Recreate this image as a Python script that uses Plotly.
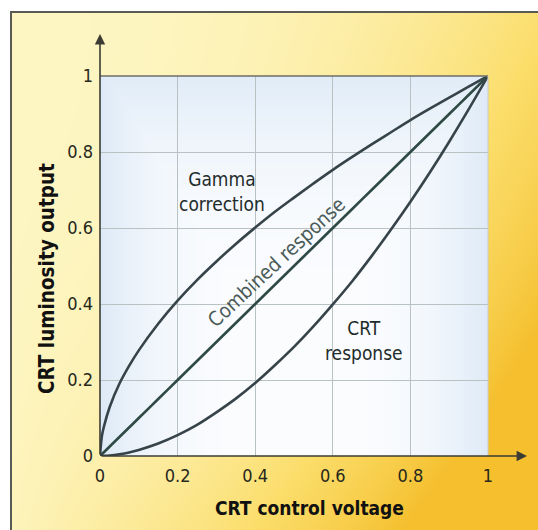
import base64
import struct
import zlib

import numpy as np
import plotly.graph_objects as go

# Control voltage samples and the three transfer curves (normalised 0..1)
voltage = [0, 0.005, 0.01, 0.025, 0.05, 0.075, 0.1, 0.15, 0.2, 0.25, 0.3, 0.35, 0.4, 0.45,
           0.5, 0.55, 0.6, 0.65, 0.7, 0.75, 0.8, 0.85, 0.9, 0.95, 1.0]
gamma_correction = [0, 0.053, 0.077, 0.129, 0.19, 0.237, 0.278, 0.348, 0.409, 0.463, 0.512,
                    0.558, 0.601, 0.642, 0.680, 0.717, 0.753, 0.787, 0.820, 0.852, 0.884,
                    0.914, 0.943, 0.972, 1.0]
crt_response = [0, 0.0001, 0.0003, 0.0013, 0.0046, 0.0094, 0.016, 0.033, 0.055, 0.082, 0.115,
                0.151, 0.192, 0.238, 0.287, 0.341, 0.399, 0.460, 0.526, 0.596, 0.669,
                0.746, 0.827, 0.912, 1.0]
combined_response = [0, 0.005, 0.01, 0.025, 0.05, 0.075, 0.1, 0.15, 0.2, 0.25, 0.3, 0.35, 0.4,
                     0.45, 0.5, 0.55, 0.6, 0.65, 0.7, 0.75, 0.8, 0.85, 0.9, 0.95, 1.0]

tick_values = [0, 0.2, 0.4, 0.6, 0.8, 1]
tick_labels = ["0", "0.2", "0.4", "0.6", "0.8", "1"]

# Canvas geometry (pixels)
WIDTH, HEIGHT = 538, 530
ML, MR, MT, MB = 100, 50, 76, 74
PW = WIDTH - ML - MR
PH = HEIGHT - MT - MB

FONT = "DejaVu Sans Condensed, Roboto, sans-serif"
CURVE = "#36444a"
INK = "#26281c"


def png_uri(rgb):
    """Encode an HxWx3 uint8 array as a PNG data URI."""
    h, w, _ = rgb.shape
    raw = b"".join(b"\x00" + rgb[r].tobytes() for r in range(h))

    def chunk(tag, data):
        c = struct.pack(">I", len(data)) + tag + data
        return c + struct.pack(">I", zlib.crc32(tag + data) & 0xFFFFFFFF)

    png = b"\x89PNG\r\n\x1a\n"
    png += chunk(b"IHDR", struct.pack(">IIBBBBB", w, h, 8, 2, 0, 0, 0))
    png += chunk(b"IDAT", zlib.compress(raw, 9))
    png += chunk(b"IEND", b"")
    return "data:image/png;base64," + base64.b64encode(png).decode()


# Warm page background: pale yellow on the left, deeper orange toward the right/bottom
yy, xx = np.mgrid[0:HEIGHT, 0:WIDTH].astype(float)
xn = xx / WIDTH
yn = yy / HEIGHT
t = 1.1 * xn ** 2.5 * (0.4 + 0.6 * yn) + 0.55 * yn ** 3 * xn ** 0.7
t = np.clip(t, 0, 1)[..., None]
light = np.array([254, 246, 195], float)
mid = np.array([251, 221, 105], float)
deep = np.array([245, 191, 45], float)
lo = np.clip(t * 2, 0, 1)
hi = np.clip(t * 2 - 1, 0, 1)
page = np.where(t < 0.5, light * (1 - lo) + mid * lo, mid * (1 - hi) + deep * hi)
page[(xx < 10) | (yy < 11)] = 255
page[(np.abs(xx - 10.5) < 1) & (yy >= 11)] = [90, 90, 85]
page[(np.abs(yy - 11.5) < 1) & (xx >= 10)] = [90, 90, 85]
page = page.astype(np.uint8)

# Cool plot-area background: pale blue at the edges, white in the middle
py, px = np.mgrid[0:PH, 0:PW].astype(float)
pxn = px / PW
pyn = py / PH
edge = np.maximum(np.abs(2 * pxn - 1) ** 3, (1 - pyn) ** 4 * 0.9)
edge = np.clip(edge * 0.9, 0, 1)[..., None]
blue = np.array([218, 232, 246], float)
white = np.array([252, 253, 255], float)
plot_bg = (white * (1 - edge) + blue * edge).astype(np.uint8)

fig = go.Figure()

for name, values, color in [
    ("Gamma correction", gamma_correction, CURVE),
    ("Combined response", combined_response, "#2f4a44"),
    ("CRT response", crt_response, CURVE),
]:
    fig.add_trace(go.Scatter(
        x=voltage, y=values, mode="lines", name=name,
        line=dict(color=color, width=2.6, shape="spline", smoothing=1.0),
        hoverinfo="x+y+name",
    ))

px_x = lambda p: (p - ML) / PW          # pixel -> paper x
px_y = lambda p: (HEIGHT - MB - p) / PH  # pixel -> paper y

images = [
    dict(source=png_uri(page), xref="paper", yref="paper",
         x=px_x(0), y=px_y(0), sizex=WIDTH / PW, sizey=HEIGHT / PH,
         xanchor="left", yanchor="top", sizing="stretch", layer="below"),
    dict(source=png_uri(plot_bg), xref="paper", yref="paper",
         x=0, y=1, sizex=1, sizey=1,
         xanchor="left", yanchor="top", sizing="stretch", layer="below"),
]

shapes = [
    # top edge of the plot area
    dict(type="line", xref="paper", yref="paper", x0=0, x1=1, y0=1, y1=1,
         line=dict(color="#6c6c66", width=1.5)),
    # faint right edge
    dict(type="line", xref="paper", yref="paper", x0=1, x1=1, y0=0, y1=1,
         line=dict(color="#c9ccc8", width=1)),
]

annotations = [
    # axis arrows
    dict(x=px_x(527), y=0, xref="paper", yref="paper", ax=-(527 - ML), ay=0,
         showarrow=True, arrowhead=2, arrowsize=1.3, arrowwidth=1.6,
         arrowcolor="#3c3c34", text=""),
    dict(x=0, y=px_y(34), xref="paper", yref="paper", ax=0, ay=(HEIGHT - MB - 34),
         showarrow=True, arrowhead=2, arrowsize=1.3, arrowwidth=1.6,
         arrowcolor="#3c3c34", text=""),
    # axis titles
    dict(x=px_x(309), y=px_y(508), xref="paper", yref="paper",
         xanchor="center", yanchor="middle",
         text="<b>CRT control voltage</b>", showarrow=False,
         font=dict(family=FONT, size=19, color="#111")),
    dict(x=px_x(47), y=px_y(279), xref="paper", yref="paper",
         xanchor="center", yanchor="middle",
         text="<b>CRT luminosity output</b>", showarrow=False, textangle=-90,
         font=dict(family=FONT, size=20.5, color="#111")),
    # curve labels
    dict(x=0.315, y=0.697, xref="x", yref="y", text="Gamma<br>correction",
         xanchor="center", yanchor="middle",
         showarrow=False, font=dict(family=FONT, size=19, color="#1f2c2c"),
         align="center"),
    dict(x=0.455, y=0.51, xref="x", yref="y", text="Combined response",
         xanchor="center", yanchor="middle",
         showarrow=False, textangle=-43,
         font=dict(family=FONT, size=20, color="#4b5b58")),
    dict(x=0.68, y=0.305, xref="x", yref="y", text="CRT<br>response",
         xanchor="center", yanchor="middle",
         showarrow=False, font=dict(family=FONT, size=19, color="#1f2c2c"),
         align="center"),
]

fig.update_layout(
    width=WIDTH, height=HEIGHT,
    margin=dict(l=ML, r=MR, t=MT, b=MB, pad=0),
    paper_bgcolor="white", plot_bgcolor="rgba(0,0,0,0)",
    showlegend=False,
    images=images, shapes=shapes, annotations=annotations,
    xaxis=dict(
        range=[0, 1], tickvals=tick_values, ticktext=tick_labels,
        showgrid=True, gridcolor="#b8c2c2", gridwidth=1,
        zeroline=False, showline=False, ticks="", ticklen=0,
        ticklabelstandoff=7,
        tickfont=dict(family=FONT, size=18, color=INK),
        fixedrange=True,
    ),
    yaxis=dict(
        range=[0, 1], tickvals=tick_values, ticktext=tick_labels,
        showgrid=True, gridcolor="#b8c2c2", gridwidth=1,
        zeroline=False, showline=False, ticks="", ticklen=0,
        ticklabelstandoff=6,
        tickfont=dict(family=FONT, size=18, color=INK),
        fixedrange=True,
    ),
)

fig.write_html("out.html")
